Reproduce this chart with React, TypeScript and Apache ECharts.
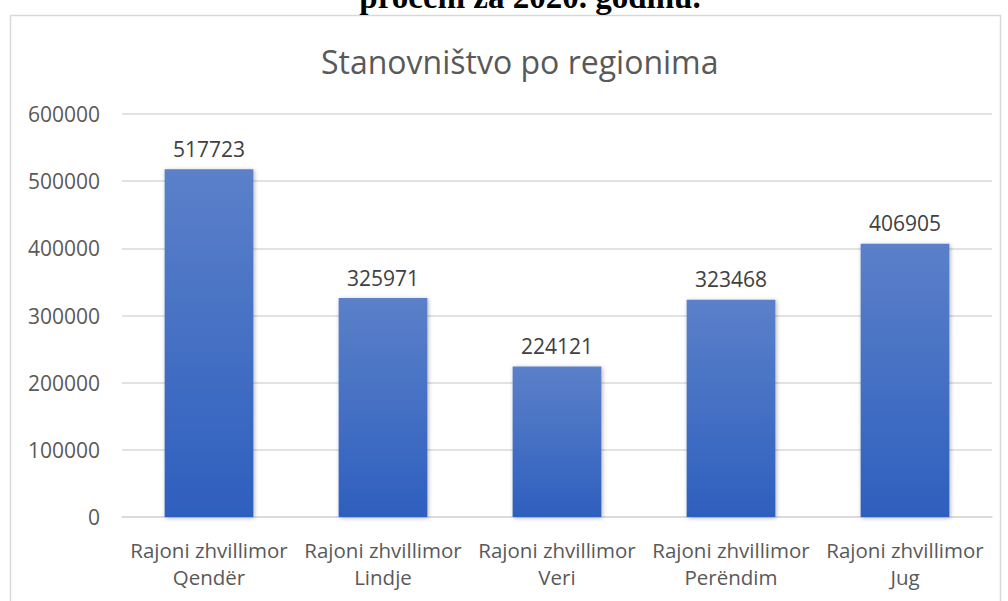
import React, { useEffect, useRef } from "react";
import * as echarts from "echarts";

const categories = [
  "Rajoni zhvillimor\nQendër",
  "Rajoni zhvillimor\nLindje",
  "Rajoni zhvillimor\nVeri",
  "Rajoni zhvillimor\nPerëndim",
  "Rajoni zhvillimor\nJug",
];
const population = [517723, 325971, 224121, 323468, 406905];
const chartTitle = "Stanovništvo po regionima";
const docCaption = "proceni za 2020. godinu.";

export default function App() {
  const ref = useRef<HTMLDivElement>(null);
  useEffect(() => {
    if (!ref.current) return;
    const chart = echarts.init(ref.current, null, { renderer: "svg" });
    chart.setOption({
      animation: false,
      backgroundColor: "#ffffff",
      title: {
        text: chartTitle,
        left: 316,
        top: 40,
        textStyle: {
          fontFamily: "Open Sans",
          fontSize: 32,
          fontWeight: "normal",
          color: "#595959",
        },
      },
      graphic: [
        {
          type: "rect",
          shape: { x: 10.5, y: 15.5, width: 990, height: 600 },
          style: { fill: "none", stroke: "#d9d9d9", lineWidth: 1.5 },
          silent: true,
        },
        {
          type: "text",
          x: 530,
          y: 13,
          style: {
            text: docCaption,
            fontFamily: "Liberation Serif",
            fontWeight: "bold",
            fontSize: 33,
            fill: "#000000",
            align: "center",
            verticalAlign: "bottom",
          },
          silent: true,
        },
      ],
      grid: { left: 122, right: 16, top: 114, bottom: 84 },
      xAxis: {
        type: "category",
        data: categories,
        axisLine: { lineStyle: { color: "#d9d9d9", width: 1.5 } },
        axisTick: { show: false },
        axisLabel: {
          color: "#595959",
          fontFamily: "Open Sans",
          fontSize: 20.5,
          lineHeight: 27,
          margin: 19,
          interval: 0,
        },
      },
      yAxis: {
        type: "value",
        min: 0,
        max: 600000,
        interval: 100000,
        axisLine: { show: false },
        axisTick: { show: false },
        splitLine: { lineStyle: { color: "#d9d9d9", width: 1.5 } },
        axisLabel: {
          color: "#595959",
          fontFamily: "Open Sans",
          fontSize: 21,
          margin: 22,
          formatter: (v: number) => String(v),
        },
      },
      series: [
        {
          type: "bar",
          data: population,
          barWidth: "51%",
          itemStyle: {
            color: new echarts.graphic.LinearGradient(0, 0, 0, 1, [
              { offset: 0, color: "#5b80c9" },
              { offset: 1, color: "#2e5fbe" },
            ]),
            shadowColor: "rgba(0,0,0,0.3)",
            shadowBlur: 4,
            shadowOffsetX: 1,
            shadowOffsetY: 1,
          },
          label: {
            show: true,
            position: "top",
            distance: 10,
            color: "#404040",
            fontFamily: "Open Sans",
            fontSize: 21,
          },
        },
      ],
    });
    return () => chart.dispose();
  }, []);
  return (
    <div
      ref={ref}
      style={{ position: "fixed", left: 0, top: 0, width: 1008, height: 601 }}
    />
  );
}
